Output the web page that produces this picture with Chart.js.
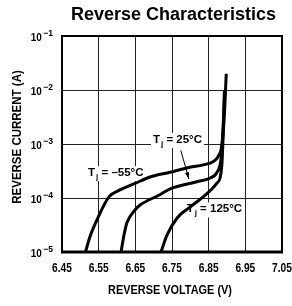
<!DOCTYPE html>
<html>
<head>
<meta charset="utf-8">
<script src="https://cdn.jsdelivr.net/npm/chart.js@4/dist/chart.umd.min.js"></script>
<style>
  html, body { margin: 0; padding: 0; background: #fff; }
  #wrap { width: 292px; height: 306px; }
</style>
</head>
<body>
<div id="wrap"><canvas id="chart" width="292" height="306"></canvas></div>
<script>
/* Reverse characteristics — reverse current vs reverse voltage */

// axis ticks
const xTicks = [6.45, 6.55, 6.65, 6.75, 6.85, 6.95, 7.05];
const yTicks = [1e-5, 1e-4, 1e-3, 1e-2, 1e-1];
const yTickExp = ['−5', '−4', '−3', '−2', '−1'];

// Tj = -55°C
const voltsM55 = [6.514, 6.526, 6.545, 6.578, 6.608, 6.646, 6.690, 6.745, 6.799, 6.835, 6.862, 6.875, 6.886, 6.892, 6.898];
const currM55  = [1e-5, 1.9e-5, 3.9e-5, 1.05e-4, 1.41e-4, 1.82e-4, 2.45e-4, 3.0e-4, 3.7e-4, 4.1e-4, 4.7e-4, 5.75e-4, 9.5e-4, 2.75e-3, 2.0e-2];

// Tj = 25°C
const volts25 = [6.611, 6.619, 6.627, 6.649, 6.663, 6.717, 6.745, 6.818, 6.854, 6.873, 6.884, 6.889, 6.894];
const curr25  = [1e-5, 2.04e-5, 3.47e-5, 6.0e-5, 7.4e-5, 1.15e-4, 1.48e-4, 2.0e-4, 2.35e-4, 3.0e-4, 5.5e-4, 1.8e-3, 1.0e-2];

// Tj = 125°C
const volts125 = [6.720, 6.736, 6.764, 6.799, 6.835, 6.862, 6.873, 6.881, 6.886, 6.889, 6.893];
const curr125  = [1e-5, 2.04e-5, 4.27e-5, 6.76e-5, 1.05e-4, 1.55e-4, 1.9e-4, 2.35e-4, 4.1e-4, 1.17e-3, 1.0e-2];

// labels (text, anchor in data units: left x, baseline y)
const labels = [
  { rest: ' = –55°C', v: 6.521, i: 2.55e-4 },
  { rest: ' = 25°C',  v: 6.698, i: 1.05e-3 },
  { rest: ' = 125°C', v: 6.790, i: 5.4e-5 }
];
// arrow for 25°C label (from -> to, data units)
const arrowFrom = { v: 6.774, i: 7.6e-4 };
const arrowTo   = { v: 6.796, i: 2.25e-4 };

const FONT = "'Liberation Sans', Arial, sans-serif";

function pts(xs, ys) {
  return xs.map(function (x, k) { return { x: x, y: ys[k] }; });
}

// bold text squeezed horizontally (stand-in for a condensed face)
function narrow(ctx, text, x, y, size, align, sx, measureOnly) {
  ctx.font = 'bold ' + size + 'px ' + FONT;
  const w = ctx.measureText(text).width * sx;
  if (measureOnly) return w;
  let x0 = x;
  if (align === 'center') x0 = x - w / 2;
  else if (align === 'right') x0 = x - w;
  ctx.save();
  ctx.translate(x0, y);
  ctx.scale(sx, 1);
  ctx.textAlign = 'left';
  ctx.fillText(text, 0, 0);
  ctx.restore();
  return w;
}

function drawTj(ctx, x, y, rest, measureOnly) {
  const wT = narrow(ctx, 'T', 0, 0, 11.5, 'left', 1, true);
  const wj = narrow(ctx, 'j', 0, 0, 8, 'left', 1, true);
  const wr = narrow(ctx, rest, 0, 0, 11.5, 'left', 1, true);
  const total = wT + 1 + wj + wr;
  if (measureOnly) return total;
  ctx.fillStyle = '#000';
  ctx.textBaseline = 'alphabetic';
  narrow(ctx, 'T', x, y, 11.5, 'left', 1);
  narrow(ctx, 'j', x + wT + 1, y + 3, 8, 'left', 1);
  narrow(ctx, rest, x + wT + 1 + wj, y, 11.5, 'left', 1);
  return total;
}

const decor = {
  id: 'decor',
  beforeDatasetsDraw(chart) {
    const ctx = chart.ctx;
    const xs = chart.scales.x, ys = chart.scales.y;
    ctx.save();
    // label boxes + labels
    labels.forEach(function (l) {
      const x = xs.getPixelForValue(l.v);
      const y = ys.getPixelForValue(l.i);
      const w = drawTj(ctx, x, y, l.rest, true);
      ctx.fillStyle = '#fff';
      ctx.fillRect(x - 2, y - 10, w + 4, 15);
      drawTj(ctx, x, y, l.rest, false);
    });
    // arrow
    const ax = xs.getPixelForValue(arrowFrom.v), ay = ys.getPixelForValue(arrowFrom.i);
    const bx = xs.getPixelForValue(arrowTo.v),   by = ys.getPixelForValue(arrowTo.i);
    ctx.strokeStyle = '#000';
    ctx.lineWidth = 1;
    ctx.beginPath();
    ctx.moveTo(ax, ay);
    ctx.lineTo(bx, by);
    ctx.stroke();
    const ang = Math.atan2(by - ay, bx - ax);
    ctx.fillStyle = '#000';
    ctx.beginPath();
    ctx.moveTo(bx, by);
    ctx.lineTo(bx - 7 * Math.cos(ang - 0.3), by - 7 * Math.sin(ang - 0.3));
    ctx.lineTo(bx - 7 * Math.cos(ang + 0.3), by - 7 * Math.sin(ang + 0.3));
    ctx.closePath();
    ctx.fill();
    ctx.restore();
  },
  afterDraw(chart) {
    const ctx = chart.ctx;
    const a = chart.chartArea;
    const xs = chart.scales.x, ys = chart.scales.y;
    ctx.save();
    // frame
    ctx.strokeStyle = '#000';
    ctx.lineWidth = 2;
    ctx.strokeRect(a.left, a.top, a.right - a.left, a.bottom - a.top);
    ctx.lineWidth = 3;
    ctx.beginPath();
    ctx.moveTo(a.left - 1, a.bottom);
    ctx.lineTo(a.right + 1, a.bottom);
    ctx.stroke();

    // title
    ctx.fillStyle = '#000';
    ctx.textBaseline = 'alphabetic';
    ctx.font = 'bold 18px ' + FONT;
    ctx.textAlign = 'center';
    ctx.fillText('Reverse Characteristics', 173.5, 20);

    // y tick labels 10^n
    yTicks.forEach(function (v, k) {
      const y = ys.getPixelForValue(v);
      const we = narrow(ctx, yTickExp[k], 53, y, 9, 'right', 0.95);
      narrow(ctx, '10', 53 - we - 1.5, y + 4.5, 11, 'right', 0.9);
    });

    // x tick labels
    xTicks.forEach(function (v) {
      narrow(ctx, v.toFixed(2), xs.getPixelForValue(v), 272, 12, 'center', 0.85);
    });

    // axis titles
    ctx.textBaseline = 'middle';
    narrow(ctx, 'REVERSE VOLTAGE (V)', 170, 291, 12, 'center', 0.91);
    ctx.translate(17.5, 137);
    ctx.rotate(-Math.PI / 2);
    narrow(ctx, 'REVERSE CURRENT (A)', 0, 0, 12.5, 'center', 0.92);
    ctx.restore();
  }
};

const lineStyle = {
  borderColor: '#000',
  borderWidth: 3,
  pointRadius: 0,
  fill: false,
  cubicInterpolationMode: 'monotone'
};

new Chart(document.getElementById('chart'), {
  type: 'line',
  data: {
    datasets: [
      Object.assign({ label: 'Tj = -55°C', data: pts(voltsM55, currM55) }, lineStyle),
      Object.assign({ label: 'Tj = 25°C',  data: pts(volts25, curr25) }, lineStyle),
      Object.assign({ label: 'Tj = 125°C', data: pts(volts125, curr125) }, lineStyle)
    ]
  },
  options: {
    responsive: false,
    animation: false,
    layout: { padding: { left: 0, right: 10, top: 36, bottom: 0 } },
    plugins: {
      legend: { display: false },
      title: { display: false },
      tooltip: { enabled: false }
    },
    scales: {
      x: {
        type: 'linear',
        min: 6.45,
        max: 7.05,
        afterBuildTicks: function (s) { s.ticks = xTicks.map(v => ({ value: v })); },
        afterFit: function (s) { s.height = 54; },
        grid: { color: '#222', lineWidth: 1, drawTicks: false },
        border: { display: false },
        ticks: { display: false }
      },
      y: {
        type: 'logarithmic',
        min: 1e-5,
        max: 1e-1,
        afterBuildTicks: function (s) { s.ticks = yTicks.map(v => ({ value: v })); },
        afterFit: function (s) { s.width = 62; },
        grid: { color: '#222', lineWidth: 1, drawTicks: false },
        border: { display: false },
        ticks: { display: false }
      }
    }
  },
  plugins: [decor]
});
</script>
</body>
</html>
